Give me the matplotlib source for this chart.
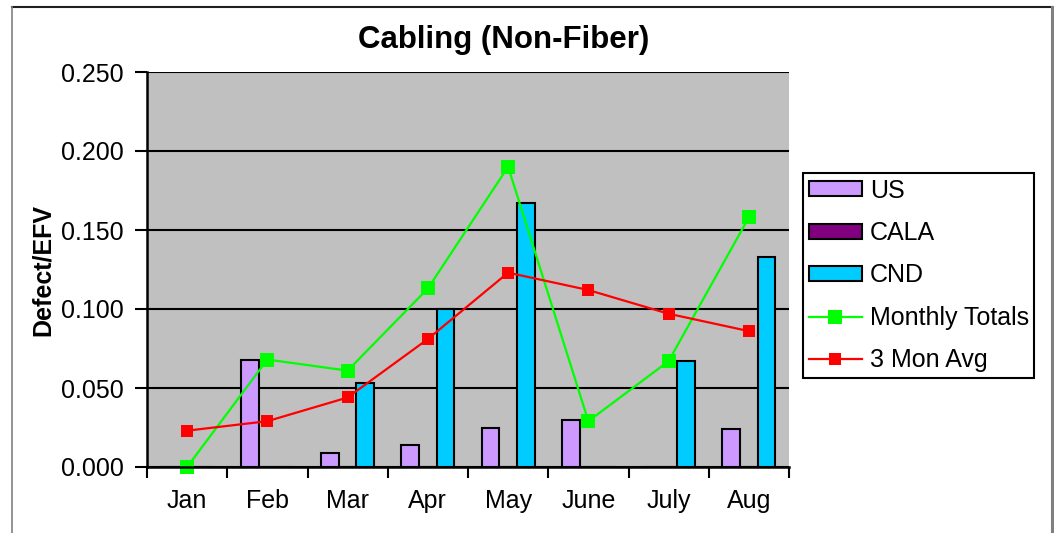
import matplotlib
matplotlib.use("Agg")
import matplotlib.pyplot as plt
import numpy as np
from matplotlib.lines import Line2D

plt.rcParams['font.family'] = ['Liberation Sans', 'DejaVu Sans']

months = ["Jan", "Feb", "Mar", "Apr", "May", "June", "July", "Aug"]
us = [0.000, 0.068, 0.009, 0.014, 0.025, 0.030, 0.000, 0.024]
cala = [0.000, 0.000, 0.000, 0.000, 0.000, 0.000, 0.000, 0.000]
cnd = [0.000, 0.000, 0.053, 0.100, 0.167, 0.000, 0.067, 0.133]
monthly_totals = [0.000, 0.068, 0.061, 0.113, 0.190, 0.029, 0.067, 0.158]
three_mon_avg = [0.023, 0.029, 0.044, 0.081, 0.123, 0.112, 0.097, 0.086]
yticks = [0.000, 0.050, 0.100, 0.150, 0.200, 0.250]

W, H = 1054, 533
fig = plt.figure(figsize=(W / 100, H / 100), dpi=100)
fig.patch.set_facecolor("white")

# outer chart frame: dark top, gray sides
fig.add_artist(Line2D([12 / W, 1052 / W], [1 - 7 / H, 1 - 7 / H], transform=fig.transFigure,
                      color="#202020", linewidth=1.5))
fig.add_artist(Line2D([12 / W, 12 / W], [0, 1 - 7 / H], transform=fig.transFigure,
                      color="#808080", linewidth=1.2))
fig.add_artist(Line2D([1052 / W, 1052 / W], [0, 1 - 7 / H], transform=fig.transFigure,
                      color="#808080", linewidth=2.2))

ax = fig.add_axes([147 / W, 1 - 467 / H, (789 - 147) / W, (467 - 72) / H])
ax.set_facecolor("#C0C0C0")

x = np.arange(len(months))
bw = 0.22
ax.bar(x - bw, us, bw, color="#CC99FF", edgecolor="black", linewidth=1.5, label="US", zorder=3)
ax.bar(x, cala, bw, color="#800080", edgecolor="black", linewidth=1.5, label="CALA", zorder=3)
ax.bar(x + bw, cnd, bw, color="#00CCFF", edgecolor="black", linewidth=1.5, label="CND", zorder=3)
ax.plot(x, monthly_totals, color="#00FF00", linewidth=1.6, marker="s", markersize=9.5,
        markeredgewidth=0, label="Monthly Totals", zorder=4, clip_on=False)
ax.plot(x, three_mon_avg, color="#FF0000", linewidth=1.6, marker="s", markersize=8.5,
        markeredgewidth=0, label="3 Mon Avg", zorder=4, clip_on=False)

ax.set_xlim(-0.5, len(months) - 0.5)
ax.set_ylim(0, 0.25)
ax.set_yticks(yticks)
ax.set_yticklabels([f"{v:.3f}" for v in yticks], fontsize=18)
ax.yaxis.grid(True, color="black", linewidth=1.5, zorder=1)
ax.set_axisbelow(True)

ax.set_xticks(x)
ax.set_xticklabels(months, fontsize=18)
ax.set_xticks(np.arange(len(months) + 1) - 0.5, minor=True)
ax.tick_params(axis="x", which="major", length=0, pad=16)
ax.tick_params(axis="x", which="minor", length=8, width=1.5, direction="out")
ax.tick_params(axis="y", which="major", length=9, width=1.5, direction="out", pad=8)

for s in ["top", "right"]:
    ax.spines[s].set_visible(False)
for s in ["left", "bottom"]:
    ax.spines[s].set_linewidth(1.8)
    ax.spines[s].set_zorder(5)

ax.set_ylabel("Defect/EFV", fontsize=18, fontweight="bold", labelpad=4)

fig.text(504 / W, 1 - 40 / H, "Cabling (Non-Fiber)", fontsize=22.5, fontweight="bold",
         ha="center", va="center")

handles, labels = ax.get_legend_handles_labels()
order = ["US", "CALA", "CND", "Monthly Totals", "3 Mon Avg"]
hmap = dict(zip(labels, handles))
leg = fig.legend([hmap[k] for k in order], order, loc="upper left",
                 bbox_to_anchor=(803 / W, 1 - 173 / H),
                 bbox_transform=fig.transFigure, borderaxespad=0, fontsize=18,
                 frameon=True, fancybox=False, edgecolor="black", framealpha=1,
                 handlelength=2.15, handleheight=0.55, labelspacing=0.74,
                 handletextpad=0.3, borderpad=0.22)
leg.get_frame().set_linewidth(1.5)

fig.savefig("out.png", dpi=100)
